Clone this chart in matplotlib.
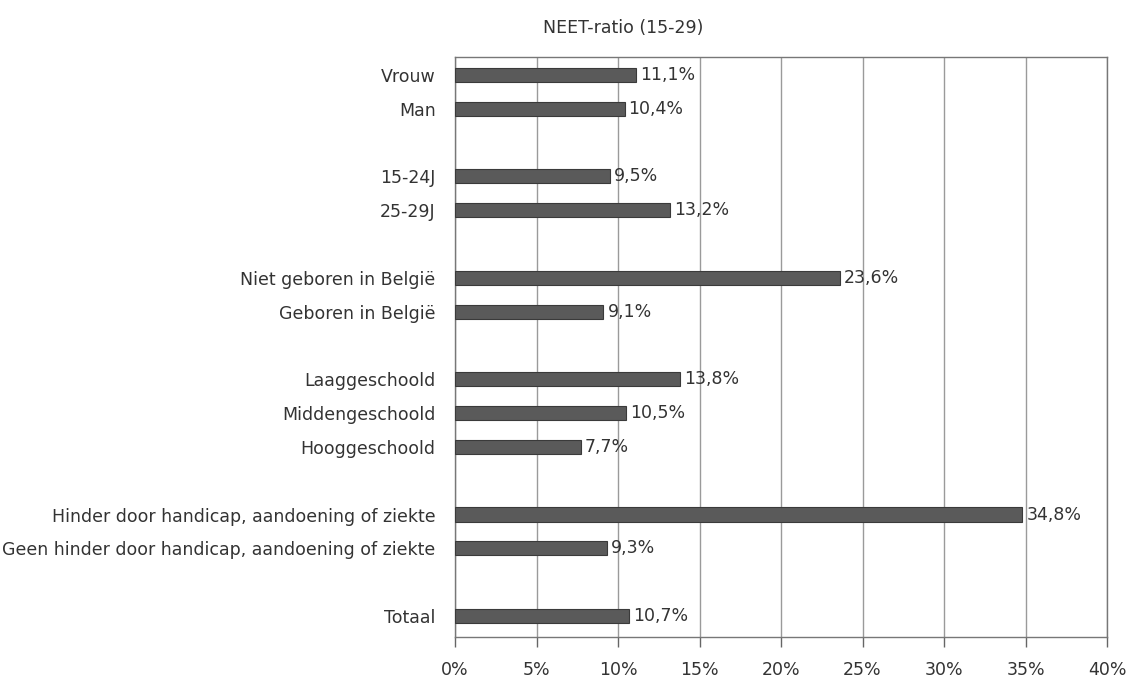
import matplotlib
matplotlib.use("Agg")
import matplotlib.pyplot as plt
import numpy as np

categories = ["Vrouw", "Man", "", "15-24J", "25-29J", "", "Niet geboren in België",
              "Geboren in België", "", "Laaggeschoold", "Middengeschoold", "Hooggeschoold", "",
              "Hinder door handicap, aandoening of ziekte",
              "Geen hinder door handicap, aandoening of ziekte", "", "Totaal"]
values = [11.1, 10.4, None, 9.5, 13.2, None, 23.6, 9.1, None, 13.8, 10.5, 7.7, None,
          34.8, 9.3, None, 10.7]
value_labels = ["11,1%", "10,4%", "", "9,5%", "13,2%", "", "23,6%", "9,1%", "", "13,8%",
                "10,5%", "7,7%", "", "34,8%", "9,3%", "", "10,7%"]
xticks = [0, 5, 10, 15, 20, 25, 30, 35, 40]
xticklabels = ["0%", "5%", "10%", "15%", "20%", "25%", "30%", "35%", "40%"]
title = "NEET-ratio (15-29)"

plt.rcParams['font.family'] = ['DejaVu Sans']
txt = "#333333"
fs = 12.5

fig = plt.figure(figsize=(11.29, 6.77), dpi=100)
ax = fig.add_axes([455/1129, 1-637/677, (1107-455)/1129, (637-57)/677])

ypos = np.arange(len(categories))
for y, v, lab in zip(ypos, values, value_labels):
    if v is None:
        continue
    ax.barh(y, v, height=0.42, color="#5a5a5a", edgecolor="#3a3a3a", linewidth=0.8, zorder=3)
    ax.text(v + 0.25, y, lab, va="center", ha="left", fontsize=fs, color=txt)

ax.set_xlim(0, 40)
ax.set_ylim(16.62, -0.53)
ax.set_yticks(ypos)
ax.set_yticklabels(categories, fontsize=fs, color=txt)
ax.tick_params(axis="y", length=0, pad=14)
ax.set_xticks(xticks)
ax.set_xticklabels(xticklabels, fontsize=fs, color=txt)
ax.tick_params(axis="x", direction="out", length=7, width=1, color="#666666", pad=10)
ax.grid(axis="x", color="#9a9a9a", linewidth=1, zorder=0)
for s in ax.spines.values():
    s.set_color("#777777")
    s.set_linewidth(1)

fig.text(623/1129, 1-28/677, title, ha="center", va="center", fontsize=fs, color=txt)

fig.savefig("out.png", dpi=100)
